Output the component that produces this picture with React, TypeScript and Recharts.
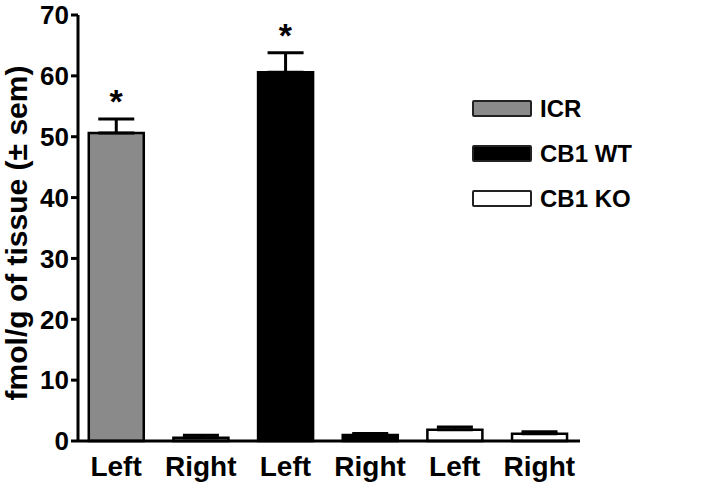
import { ComposedChart, Bar, Cell, ErrorBar, Scatter, XAxis, YAxis } from 'recharts';

const sides = ['Left', 'Right', 'Left', 'Right', 'Left', 'Right'];
const strains = ['ICR', 'ICR', 'CB1 WT', 'CB1 WT', 'CB1 KO', 'CB1 KO'];
const means = [50.6, 0.55, 60.6, 1.0, 1.85, 1.2];
const sems = [2.3, 0.4, 3.2, 0.25, 0.45, 0.3];
const starred = [true, false, true, false, false, false];

const legendNames = ['ICR', 'CB1 WT', 'CB1 KO'];
const legendFills = ['#8a8a8a', '#000000', '#ffffff'];
const yTicks = [0, 10, 20, 30, 40, 50, 60, 70];
const yLabel = 'fmol/g of tissue (± sem)';

const FONT = '"Liberation Sans", Arial, Helvetica, sans-serif';

const fillFor = (strain: string) => legendFills[legendNames.indexOf(strain)];

const rows = sides.map((side, i) => ({
  pos: i,
  side,
  strain: strains[i],
  mean: means[i],
  err: [0, sems[i]],
  top: means[i] + sems[i],
}));

const starRows = rows.filter((_, i) => starred[i]);

function Star(props: any) {
  const { cx, cy } = props;
  return (
    <text x={cx} y={cy - 6} textAnchor="middle" fontSize={34} fontWeight="bold" fontFamily={FONT} fill="#000">
      *
    </text>
  );
}

// legend drawn by hand, a Recharts <Legend> would eat plot width
function LegendBox() {
  return (
    <div style={{ position: 'absolute', left: 472, top: 86, fontFamily: FONT }}>
      {legendNames.map((name, i) => (
        <div key={name} style={{ display: 'flex', alignItems: 'center', height: 45 }}>
          <div
            style={{
              width: 56,
              height: 13,
              background: legendFills[i],
              border: '2px solid #222',
              borderRadius: 2,
              marginRight: 8,
            }}
          />
          <span style={{ fontSize: 24, fontWeight: 'bold', color: '#000' }}>{name}</span>
        </div>
      ))}
    </div>
  );
}

function YLabel() {
  return (
    <text
      x={27}
      y={233}
      transform="rotate(-90 27 233)"
      textAnchor="middle"
      fontSize={30}
      fontWeight="bold"
      fontFamily={FONT}
      fill="#000"
    >
      {yLabel}
    </text>
  );
}

export default function App() {
  return (
    <div style={{ position: 'absolute', left: 0, top: 0, width: 720, height: 487, background: '#fff' }}>
      <ComposedChart width={720} height={487} data={rows} margin={{ top: 15, right: 140, bottom: 6, left: 20 }}>
        <XAxis
          dataKey="pos"
          type="number"
          domain={[-0.45, 5.48]}
          ticks={[0, 1, 2, 3, 4, 5]}
          interval={0}
          tickFormatter={(v: number) => sides[v]}
          tickLine={false}
          axisLine={{ stroke: '#000', strokeWidth: 3 }}
          tick={{ fontSize: 28, fontWeight: 'bold', fill: '#000', fontFamily: FONT }}
          tickMargin={9}
          height={40}
          allowDataOverflow
        />
        <YAxis
          domain={[0, 70]}
          ticks={yTicks}
          interval={0}
          width={58}
          tickSize={7}
          tickLine={{ stroke: '#000', strokeWidth: 3 }}
          axisLine={{ stroke: '#000', strokeWidth: 3 }}
          tick={{ fontSize: 26, fontWeight: 'bold', fill: '#000', fontFamily: FONT }}
          label={<YLabel />}
        />
        <Bar dataKey="mean" barSize={55} stroke="#000" strokeWidth={2.5} isAnimationActive={false}>
          {rows.map((r) => (
            <Cell key={r.pos} fill={fillFor(r.strain)} />
          ))}
          <ErrorBar dataKey="err" direction="y" width={18} stroke="#000" strokeWidth={3} />
        </Bar>
        <Scatter data={starRows} dataKey="top" shape={<Star />} isAnimationActive={false} />
      </ComposedChart>
      <LegendBox />
    </div>
  );
}
